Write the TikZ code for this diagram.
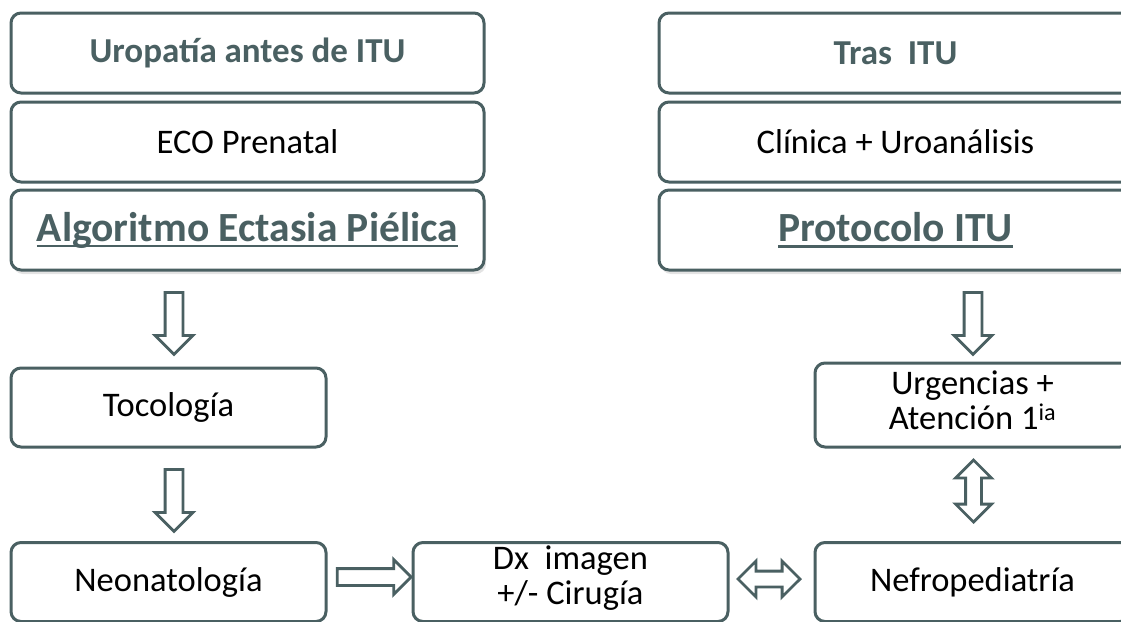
\documentclass[tikz,border=0pt]{standalone}
\usepackage{fontspec}
\setmainfont{Carlito}
\usetikzlibrary{shapes.arrows,shadows}
\definecolor{slate}{RGB}{74,96,98}
% underline sitting close under the baseline
\newcommand{\ulined}[1]{\setbox0\hbox{#1}\rlap{\color{slate}\rule[-0.15em]{\wd0}{0.055em}}\box0}

\begin{document}
\begin{tikzpicture}
        [x=1pt, y=-1pt,
        box/.style={draw=slate, line width=3pt, rounded corners=10pt, fill=white, inner sep=0pt,
            align=center, font=\fontsize{34.5}{35}\selectfont},
        bigbox/.style={box, minimum width=473pt, minimum height=80pt},
        smallbox/.style={box, minimum width=315pt, minimum height=79pt},
        head/.style={text=slate, font=\fontsize{35}{36}\selectfont\bfseries},
        title/.style={text=slate, font=\fontsize{41.5}{44}\selectfont\bfseries,
            drop shadow={shadow xshift=2pt, shadow yshift=-4pt, opacity=0.22}},
        blockarr/.style={draw=slate, line width=2.8pt, fill=white},
        downarr/.style={single arrow, blockarr, inner sep=7.5pt, minimum height=62pt,
            single arrow head extend=10pt, shape border rotate=270},
        rightarr/.style={single arrow, blockarr, inner sep=7pt, minimum height=74pt,
            single arrow head extend=9pt},
        bothwayarr/.style={double arrow, blockarr, inner sep=6.5pt, minimum height=62pt,
            double arrow head extend=10pt}]

        \clip (0,0) rectangle (1121,621);

        % left column
        \node[bigbox, head] (uro) at (247.5,53) {Uropatía antes de ITU};
        \node[bigbox] (eco) at (247.5,142) {ECO Prenatal};
        \node[bigbox, title] (alg) at (247.5,230) {\ulined{Algoritmo Ectasia Piélica}};

        \node[smallbox] (toco) at (168.5,407.5) {Tocología};
        \node[smallbox] (neo) at (168.5,582) {Neonatología};

        % right column
        \node[bigbox, head] (tras) at (895.5,53) {Tras\ \ ITU};
        \node[bigbox] (clin) at (895.5,142) {Clínica + Uroanálisis};
        \node[bigbox, title] (prot) at (895.5,230) {\ulined{Protocolo ITU}};

        \node[smallbox, minimum height=84pt] (urg) at (972.5,405) {Urgencias +\\Atención 1\textsuperscript{ia}\\[-25pt]};
        \node[smallbox] (nefro) at (972.5,582) {Nefropediatría};

        \node[smallbox] (dx) at (570.5,582) {Dx\ \ imagen\\+/- Cirugía\\[-21pt]};

        % block arrows
        \node[downarr] (a1) at (174,319) {};
        \node[downarr] (a2) at (174,496) {};
        \node[downarr] (a3) at (973,319) {};
        \node[bothwayarr, shape border rotate=90] (a4) at (973.5,491) {};
        \node[rightarr] (a5) at (370,577) {};
        \node[bothwayarr] (a6) at (769,579) {};
    \end{tikzpicture}
\end{document}
